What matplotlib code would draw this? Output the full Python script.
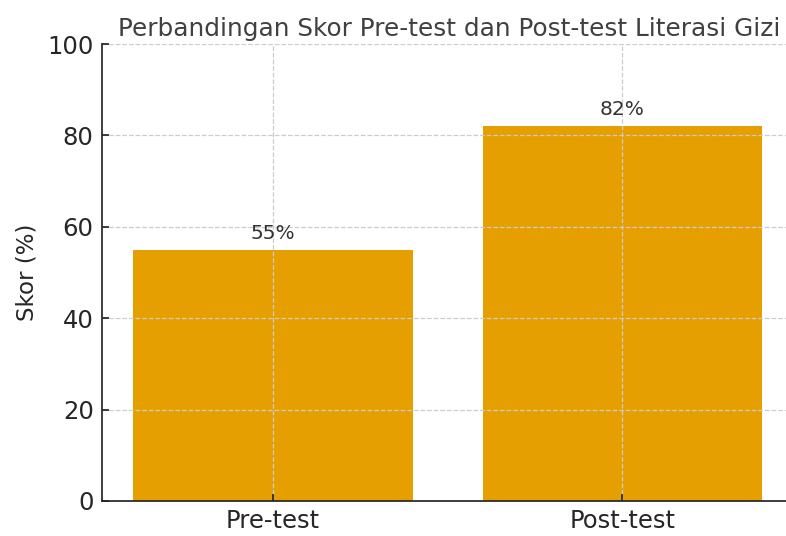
import matplotlib.pyplot as plt

categories = ['Pre-test', 'Post-test']
scores = [55, 82]
labels = ['55%', '82%']

fig = plt.figure(figsize=(7.86, 5.36), dpi=100)
ax = fig.add_axes([102/786, 35/536, 695/786, 457/536])

bars = ax.bar(categories, scores, width=0.8, color='#E69F00')
ax.set_xlim(-0.49, 1.5)
ax.set_ylim(0, 100)
ax.grid(True, linestyle='--', color='#cccccc', linewidth=0.9)

for b, lab in zip(bars, labels):
    ax.text(b.get_x() + b.get_width()/2, b.get_height() + 1.5, lab,
            ha='center', va='bottom', fontsize=14.5, color='#333333')

ax.set_title('Perbandingan Skor Pre-test dan Post-test Literasi Gizi',
             fontsize=17.8, color='#404040', pad=6)
ax.set_ylabel('Skor (%)', fontsize=16.5, color='#262626', labelpad=6)
ax.tick_params(labelsize=17.5, colors='#262626', width=1.25, length=5,
               direction='in', pad=6)
for s in ['top', 'right']:
    ax.spines[s].set_visible(False)
for s in ['left', 'bottom']:
    ax.spines[s].set_linewidth(1.25)
    ax.spines[s].set_color('#262626')

fig.savefig('out.png', dpi=100)
